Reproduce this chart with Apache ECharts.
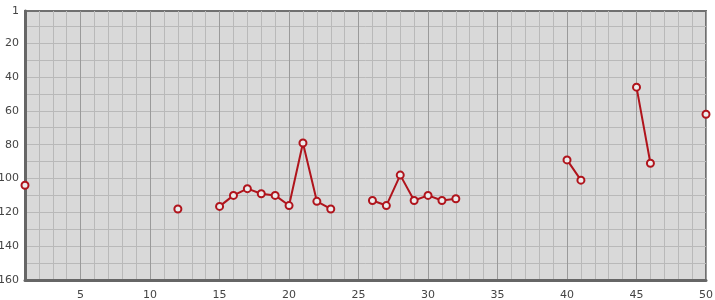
<!DOCTYPE html>
<html><head><meta charset="utf-8">
<script src="https://cdn.jsdelivr.net/npm/echarts@6/dist/echarts.min.js"></script>
<style>html,body{margin:0;padding:0;background:#fff}#c{width:715px;height:300px}</style>
</head><body><div id="c"></div>
<script>
const xValues = [1,12,15,16,17,18,19,20,21,22,23,26,27,28,29,30,31,32,40,41,45,46,50];
const yValues = [104,118,116.5,110,106,109,110,116,79,113.5,118,113,116,98,113,110,113,112,89,101,46,91,62];
const yLabelValues = [1,20,40,60,80,100,120,140,160];
const yGridValues = [10,20,30,40,50,60,70,80,90,100,110,120,130,140,150];

// build full 1..50 series with gaps
const data = [];
for (let x = 1; x <= 50; x++) {
  const i = xValues.indexOf(x);
  data.push([x, i >= 0 ? yValues[i] : null]);
}
const minorC = '#b9b9b9', majorC = '#9a9a9a';
const chart = echarts.init(document.getElementById('c'), null, {renderer: 'canvas'});
chart.setOption({
  animation: false,
  grid: {left: 25, right: 9, top: 11, bottom: 20, outerBoundsMode: 'none', containLabel: false,
    show: true, backgroundColor: '#d9d9d9', borderColor: '#707070', borderWidth: 2},
  xAxis: {
    type: 'value', min: 1, max: 50, interval: 1,
    axisLine: {show: true, lineStyle: {color: '#666', width: 3}},
    axisTick: {show: false},
    axisLabel: {color: '#444', fontFamily: 'DejaVu Sans', fontSize: 11, margin: 10,
      formatter: v => (v % 5 === 0 ? String(v) : '')},
    splitLine: {show: true, lineStyle: {color: [minorC, minorC, minorC, minorC, majorC], width: 1}}
  },
  yAxis: {
    type: 'value', min: 1, max: 160, inverse: true,
    axisLine: {show: true, lineStyle: {color: '#666', width: 3}},
    axisTick: {show: false, customValues: yGridValues},
    axisLabel: {color: '#444', fontFamily: 'DejaVu Sans', fontSize: 11, margin: 6, customValues: yLabelValues},
    splitLine: {show: true, lineStyle: {color: minorC, width: 1}}
  },
  series: [{
    type: 'line', data: data, connectNulls: false,
    symbol: 'circle', symbolSize: 7,
    lineStyle: {color: '#b0141c', width: 2},
    itemStyle: {color: '#ececec', borderColor: '#b0141c', borderWidth: 2},
    clip: false
  }]
});
</script></body></html>
